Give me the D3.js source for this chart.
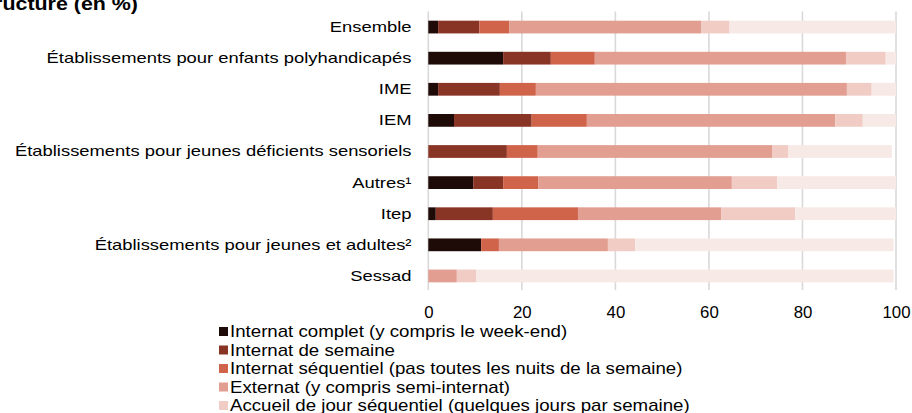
<!DOCTYPE html>
<html><head><meta charset="utf-8">
<script src="https://cdn.jsdelivr.net/npm/d3@7"></script>
<style>
html,body{margin:0;padding:0;background:#fff;overflow:hidden}
svg{display:block;font-family:"Liberation Sans",Arial,sans-serif}
</style></head><body>
<svg id="c" width="912" height="413"></svg>
<script>
const title = "Répartition des enfants selon le mode d'accueil et le type de structure (en %)";
const categories = [
  "Ensemble",
  "Établissements pour enfants polyhandicapés",
  "IME",
  "IEM",
  "Établissements pour jeunes déficients sensoriels",
  "Autres¹",
  "Itep",
  "Établissements pour jeunes et adultes²",
  "Sessad"
];
const seriesNames = [
  "Internat complet (y compris le week-end)",
  "Internat de semaine",
  "Internat séquentiel (pas toutes les nuits de la semaine)",
  "Externat (y compris semi-internat)",
  "Accueil de jour séquentiel (quelques jours par semaine)",
  "Prestation sur le lieu de vie ou en milieu ordinaire"
];
const internatComplet   = [2.1, 16.0, 2.1, 5.5, 0.0, 9.6, 1.6, 11.3, 0.0];
const internatSemaine   = [8.8, 10.2, 13.2, 16.6, 16.8, 6.4, 12.2, 0.0, 0.0];
const internatSequentiel= [6.4, 9.4, 7.7, 11.8, 6.6, 7.5, 18.2, 3.8, 0.0];
const externat          = [41.1, 53.7, 66.5, 53.1, 50.1, 41.4, 30.6, 23.3, 6.1];
const accueilJour       = [6.0, 8.5, 5.3, 5.9, 3.4, 9.7, 15.9, 5.8, 4.1];
const autreMode         = [35.6, 2.2, 5.2, 7.1, 22.2, 25.4, 21.5, 55.3, 89.3];
const tickValues = [0, 20, 40, 60, 80, 100];
const colors = ["#1e0a07", "#893526", "#d0644b", "#e29e91", "#f0ccc5", "#f7e9e6"];

const seriesValues = [internatComplet, internatSemaine, internatSequentiel, externat, accueilJour, autreMode];
const rows = categories.map((c, i) => {
  const o = {cat: c};
  seriesNames.forEach((s, k) => o[s] = seriesValues[k][i]);
  return o;
});

const FONT = '"Liberation Sans",Arial,sans-serif';
const svg = d3.select("#c");
const x = d3.scaleLinear().domain([0, 100]).range([428.3, 896]);
const y = d3.scaleBand().domain(categories).range([11.5, 291.5]).paddingInner(0.59).paddingOuter(0.295);

// title (cut off at top, as in the reference)
svg.append("text").attr("transform", "translate(138,9.5) scale(1.19,1)").attr("text-anchor", "end")
  .attr("font-weight", "bold").attr("font-size", 18).attr("fill", "#000").text(title);

// gridlines
svg.append("g").selectAll("line").data(tickValues).join("line")
  .attr("x1", d => x(d)).attr("x2", d => x(d))
  .attr("y1", 11.5).attr("y2", 290)
  .attr("stroke", "#d9d9d9").attr("stroke-width", 1.6);

// bars
const stack = d3.stack().keys(seriesNames)(rows);
svg.append("g").selectAll("g").data(stack).join("g")
  .attr("fill", (d, i) => colors[i])
  .selectAll("rect").data(d => d).join("rect")
  .attr("x", d => x(d[0]))
  .attr("width", d => Math.max(0, x(d[1]) - x(d[0])))
  .attr("y", d => y(d.data.cat))
  .attr("height", y.bandwidth());

// category labels
const yAxis = d3.axisLeft(y).tickSize(0).tickPadding(0);
const gy = svg.append("g").attr("transform", "translate(411.5,0)").call(yAxis);
gy.select(".domain").remove();
gy.selectAll("text").attr("font-size", 15.4).attr("fill", "#000")
  .attr("font-family", FONT).attr("x", 0).attr("transform", "scale(1.195,1)");

// x tick labels
const xAxis = d3.axisBottom(x).tickValues(tickValues).tickSize(0).tickPadding(0).tickFormat(d3.format("d"));
const gx = svg.append("g").attr("transform", "translate(0,307)").call(xAxis);
gx.select(".domain").remove();
gx.selectAll("text").attr("font-size", 16).attr("fill", "#000")
  .attr("font-family", FONT).attr("transform", "scale(1.05,1)");

// legend
const lg = svg.append("g").selectAll("g").data(seriesNames).join("g")
  .attr("transform", (d, i) => `translate(219,${331.5 + i * 18.5})`);
lg.append("rect").attr("x", 0).attr("y", -4.5).attr("width", 9).attr("height", 9)
  .attr("fill", (d, i) => colors[i]);
lg.append("text").attr("transform", "translate(11,0) scale(1.168,1)").attr("dy", "0.36em")
  .attr("font-size", 16).attr("fill", "#000").text(d => d);
</script>
</body></html>
